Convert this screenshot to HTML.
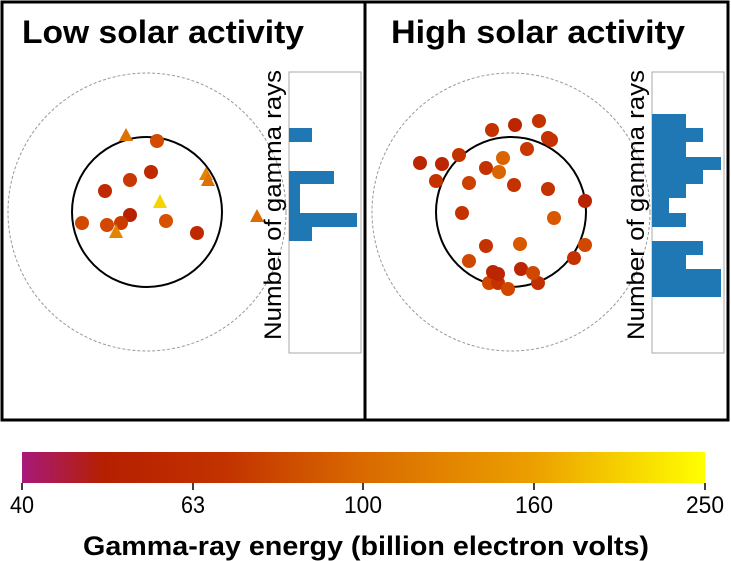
<!DOCTYPE html>
<html><head><style>html,body{margin:0;padding:0;background:#fff}svg{display:block}</style></head>
<body>
<svg width="731" height="561" viewBox="0 0 731 561" xmlns="http://www.w3.org/2000/svg" font-family="'Liberation Sans', sans-serif">
<defs>
<linearGradient id="cb" x1="0" x2="1" y1="0" y2="0">
<stop offset="0" stop-color="#a8197a"/>
<stop offset="0.12" stop-color="#b51f00"/>
<stop offset="0.3" stop-color="#c33300"/>
<stop offset="0.5" stop-color="#d96a00"/>
<stop offset="0.75" stop-color="#eca000"/>
<stop offset="1" stop-color="#ffff00"/>
</linearGradient>
</defs>
<rect x="2" y="2" width="726" height="418" fill="none" stroke="#000" stroke-width="3"/>
<line x1="365" y1="2" x2="365" y2="420" stroke="#000" stroke-width="3"/>
<text x="22" y="43" font-size="32" font-weight="bold" textLength="282" lengthAdjust="spacingAndGlyphs">Low solar activity</text>
<text x="391" y="43" font-size="32" font-weight="bold" textLength="294" lengthAdjust="spacingAndGlyphs">High solar activity</text>

<!-- left panel -->
<circle cx="147" cy="212" r="139" fill="none" stroke="#999" stroke-dasharray="3,2"/>
<circle cx="147" cy="212" r="75" fill="none" stroke="#000" stroke-width="2"/>
<rect x="289" y="72" width="72" height="281" fill="#fff" stroke="#aaa"/>
<path d="M289 128H312V142H289Z M289 171H334V184H300V213H357V227H312V241H289Z" fill="#1f77b4"/>
<text transform="translate(281,340) rotate(-90)" font-size="24" textLength="270" lengthAdjust="spacingAndGlyphs">Number of gamma rays</text>
<g>
<circle cx="157" cy="141" r="7" fill="#d44a00"/>
<circle cx="151" cy="172" r="7" fill="#c02a00"/>
<circle cx="130" cy="180" r="7" fill="#c83800"/>
<circle cx="105" cy="191" r="7" fill="#bf2a00"/>
<circle cx="130" cy="215" r="7" fill="#b82200"/>
<circle cx="82" cy="223" r="7" fill="#d24800"/>
<circle cx="107" cy="225" r="7" fill="#d24800"/>
<circle cx="121" cy="223" r="7" fill="#c83c00"/>
<circle cx="166" cy="221" r="7" fill="#d65200"/>
<circle cx="197" cy="233" r="7" fill="#c02800"/>
<polygon points="126,128 133,141 119,141" fill="#e07000"/>
<polygon points="206,167 213,180 199,180" fill="#e38400"/>
<polygon points="208,173 215,186 201,186" fill="#df7000"/>
<polygon points="160,194 167,208 153,208" fill="#f5d400"/>
<polygon points="116,224 123,238 109,238" fill="#e38400"/>
<polygon points="257,209 264,222 250,222" fill="#df6a00"/>
</g>

<!-- right panel -->
<circle cx="511" cy="212" r="139" fill="none" stroke="#999" stroke-dasharray="3,2"/>
<circle cx="511" cy="212" r="75" fill="none" stroke="#000" stroke-width="2"/>
<rect x="652" y="72" width="72" height="281" fill="#fff" stroke="#aaa"/>
<path d="M652 114H686V128H703V142H686V157H721V170H703V184H686V198H669V213H686V227H652Z M652 241H703V255H686V269H721V297H652Z" fill="#1f77b4"/>
<text transform="translate(644,340) rotate(-90)" font-size="24" textLength="270" lengthAdjust="spacingAndGlyphs">Number of gamma rays</text>
<g>
<circle cx="492" cy="130" r="7" fill="#c43200"/>
<circle cx="515" cy="125" r="7" fill="#bb2600"/>
<circle cx="539" cy="121" r="7" fill="#c43200"/>
<circle cx="548" cy="138" r="7" fill="#c43200"/>
<circle cx="551" cy="140" r="7" fill="#c43200"/>
<circle cx="527" cy="149" r="7" fill="#c83800"/>
<circle cx="420" cy="163" r="7" fill="#bb2600"/>
<circle cx="442" cy="164" r="7" fill="#bb2600"/>
<circle cx="459" cy="155" r="7" fill="#c43200"/>
<circle cx="503" cy="158" r="7" fill="#dc6400"/>
<circle cx="486" cy="168" r="7" fill="#c43200"/>
<circle cx="499" cy="172" r="7" fill="#dc6400"/>
<circle cx="436" cy="181" r="7" fill="#c43200"/>
<circle cx="469" cy="183" r="7" fill="#cc4000"/>
<circle cx="514" cy="185" r="7" fill="#c43200"/>
<circle cx="548" cy="189" r="7" fill="#c43200"/>
<circle cx="585" cy="201" r="7" fill="#b82200"/>
<circle cx="462" cy="213" r="7" fill="#c43200"/>
<circle cx="554" cy="218" r="7" fill="#d85800"/>
<circle cx="486" cy="246" r="7" fill="#c43200"/>
<circle cx="520" cy="244" r="7" fill="#d85800"/>
<circle cx="585" cy="245" r="7" fill="#d04800"/>
<circle cx="574" cy="258" r="7" fill="#c43200"/>
<circle cx="469" cy="261" r="7" fill="#d04800"/>
<circle cx="489" cy="283" r="7" fill="#d04800"/>
<circle cx="498" cy="283" r="7" fill="#c43200"/>
<circle cx="508" cy="289" r="7" fill="#d04800"/>
<circle cx="538" cy="283" r="7" fill="#c03000"/>
<circle cx="493" cy="272" r="7" fill="#bb2600"/>
<circle cx="498" cy="274" r="7" fill="#bb2600"/>
<circle cx="521" cy="269" r="7" fill="#bb2600"/>
<circle cx="533" cy="273" r="7" fill="#d04800"/>
</g>

<!-- colorbar -->
<rect x="22" y="452" width="683" height="31" fill="url(#cb)"/>
<g stroke="#000" stroke-width="1.5">
<line x1="22" y1="483" x2="22" y2="490"/>
<line x1="193" y1="483" x2="193" y2="490"/>
<line x1="363" y1="483" x2="363" y2="490"/>
<line x1="534" y1="483" x2="534" y2="490"/>
<line x1="705" y1="483" x2="705" y2="490"/>
</g>
<g font-size="24" text-anchor="middle">
<text x="22" y="513" textLength="24" lengthAdjust="spacingAndGlyphs">40</text>
<text x="193" y="513" textLength="24" lengthAdjust="spacingAndGlyphs">63</text>
<text x="363" y="513" textLength="38" lengthAdjust="spacingAndGlyphs">100</text>
<text x="534" y="513" textLength="38" lengthAdjust="spacingAndGlyphs">160</text>
<text x="705" y="513" textLength="38" lengthAdjust="spacingAndGlyphs">250</text>
</g>
<text x="366" y="555" font-size="27" font-weight="bold" text-anchor="middle" textLength="566" lengthAdjust="spacingAndGlyphs">Gamma-ray energy (billion electron volts)</text>
</svg>
</body></html>
